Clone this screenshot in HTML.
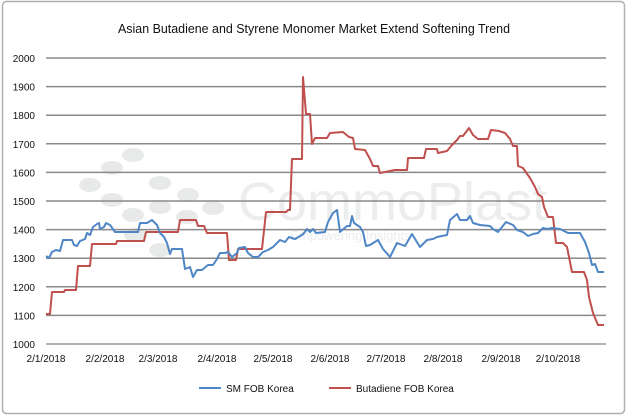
<!DOCTYPE html>
<html><head><meta charset="utf-8"><style>
html,body{margin:0;padding:0;background:#fff;}
svg{display:block;font-family:"Liberation Sans",sans-serif;}
</style></head><body>
<svg width="628" height="416" viewBox="0 0 628 416">
<rect x="2.5" y="1.5" width="622" height="412" rx="4" fill="#fff" stroke="#b0b0b0" stroke-width="1.5"/>
<text x="314" y="33" text-anchor="middle" font-size="13" textLength="392" lengthAdjust="spacingAndGlyphs" fill="#111">Asian Butadiene and Styrene Monomer Market Extend Softening Trend</text>
<!-- watermark -->
<g fill="#e8eaea">
<ellipse cx="133" cy="155" rx="11" ry="7"/><ellipse cx="112" cy="168" rx="11" ry="7"/>
<ellipse cx="90" cy="185" rx="11" ry="7"/><ellipse cx="112" cy="200" rx="11" ry="7"/>
<ellipse cx="160" cy="183" rx="11" ry="7"/><ellipse cx="160" cy="207" rx="11" ry="7"/>
<ellipse cx="188" cy="195" rx="11" ry="7"/><ellipse cx="213" cy="208" rx="11" ry="7"/>
<ellipse cx="133" cy="215" rx="11" ry="7"/><ellipse cx="187" cy="217" rx="11" ry="7"/>
<ellipse cx="160" cy="250" rx="11" ry="7"/><ellipse cx="135" cy="235" rx="11" ry="7"/>
</g>
<text x="238" y="220" font-size="54" fill="#eceded">CommoPlast</text>
<text x="290" y="240" font-size="13" fill="#eceded">Empowering Insights</text>
<!-- grid -->
<g stroke="#8a8a8a" stroke-width="1.5">
<line x1="46" x2="606" y1="58" y2="58"/><line x1="46" x2="606" y1="86.6" y2="86.6"/>
<line x1="46" x2="606" y1="115.2" y2="115.2"/><line x1="46" x2="606" y1="143.8" y2="143.8"/>
<line x1="46" x2="606" y1="172.4" y2="172.4"/><line x1="46" x2="606" y1="201" y2="201"/>
<line x1="46" x2="606" y1="229.6" y2="229.6"/><line x1="46" x2="606" y1="258.2" y2="258.2"/>
<line x1="46" x2="606" y1="286.8" y2="286.8"/><line x1="46" x2="606" y1="315.4" y2="315.4"/>
<line x1="46" x2="606" y1="344" y2="344" stroke="#999"/>
</g>
<g font-size="10" fill="#111" text-anchor="end">
<text x="35" y="62">2000</text><text x="35" y="90.6">1900</text><text x="35" y="119.2">1800</text>
<text x="35" y="147.8">1700</text><text x="35" y="176.4">1600</text><text x="35" y="205">1500</text>
<text x="35" y="233.6">1400</text><text x="35" y="262.2">1300</text><text x="35" y="290.8">1200</text>
<text x="35" y="319.4">1100</text><text x="35" y="348">1000</text>
</g>
<g font-size="10" fill="#111" text-anchor="middle">
<text x="46" y="362">2/1/2018</text><text x="105" y="362">2/2/2018</text><text x="158" y="362">2/3/2018</text>
<text x="217" y="362">2/4/2018</text><text x="273" y="362">2/5/2018</text><text x="330" y="362">2/6/2018</text>
<text x="386" y="362">2/7/2018</text><text x="443" y="362">2/8/2018</text><text x="501" y="362">2/9/2018</text>
<text x="558" y="362">2/10/2018</text>
</g>
<polyline fill="none" stroke="#c0504d" stroke-width="2" stroke-linejoin="round" points="46,314 50,314 52,292 64,292 65,290 76,290 78,266 90,266 92,244 116,244 117,241 144,241 146,232 178,232 180,220 196,220 198,226 204,226 207,233 227,233 229,260 236,260 238,249 262,249 266,212 286,212 288,210 290,210 292,159 302,159 303,77 306,114 310,114 312,144 315,138 327,138 330,133 343,132 349,137 353,138 355,149 365,150 370,159 373,166 378,166 380,173 385,172 395,170 407,170 408,158 424,158 426,149 437,149 438,153 447,151 452,145 457,140 460,136 463,136 469,128 473,135 478,139 488,139 491,130 499,131 505,133 510,139 513,146 517,146 518,166 523,168 530,178 535,187 538,194 542,197 544,207 548,217 553,217 556,243 563,243 567,247 572,272 584,272 587,280 589,297 593,313 598,325 604,325"/>
<polyline fill="none" stroke="#4f86c6" stroke-width="2" stroke-linejoin="round" points="46,256 49,258 52,252 56,250 60,251 63,240 72,240 74,245 77,246 80,241 85,239 87,233 90,235 93,227 97,224 99,223 100,229 104,227 106,223 110,225 115,232 138,232 140,223 147,223 152,220 157,225 160,233 164,237 167,243 170,254 172,249 182,249 185,269 190,267 193,277 197,270 202,270 208,265 213,265 217,259 220,253 225,253 228,252 232,257 237,253 239,248 245,247 248,253 253,257 258,257 263,252 268,250 273,247 280,240 285,242 289,237 295,239 302,235 304,233 307,229 310,232 313,229 316,233 325,232 328,222 333,213 337,210 340,232 347,226 350,226 352,216 354,223 360,227 363,232 366,246 370,245 378,240 383,249 390,257 397,243 405,246 412,234 420,247 427,240 433,239 437,237 447,235 450,220 457,214 460,220 467,220 470,216 473,223 480,225 490,226 493,229 498,232 502,227 506,222 513,225 517,230 523,232 528,236 533,234 538,233 543,228 547,229 552,228 560,229 568,233 580,233 585,242 589,253 592,265 595,264 598,272 604,272"/>
<line x1="199" x2="221" y1="388" y2="388" stroke="#4f86c6" stroke-width="2"/>
<text x="226" y="392" font-size="10" fill="#111">SM FOB Korea</text>
<line x1="329" x2="351" y1="388" y2="388" stroke="#c0504d" stroke-width="2"/>
<text x="356" y="392" font-size="10" fill="#111">Butadiene FOB Korea</text>
</svg>
</body></html>
